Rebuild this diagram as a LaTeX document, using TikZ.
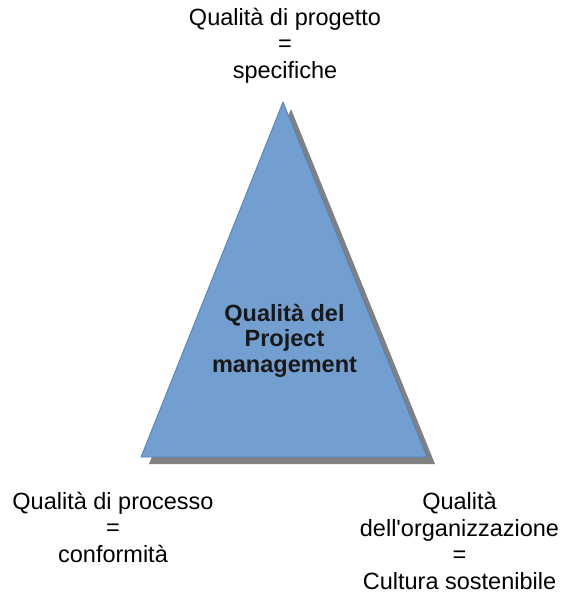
\documentclass[tikz,border=0pt]{standalone}
\usepackage{fontspec}
\setmainfont{Liberation Sans}
\definecolor{triblue}{HTML}{729FCF}
\definecolor{triedge}{HTML}{4F81BD}
\definecolor{trishadow}{HTML}{808080}
\begin{document}
\begin{tikzpicture}[x=1pt, y=-1pt,
		label/.style={align=center, inner sep=0pt, anchor=base,
					  font=\fontsize{23.5}{26.5}\selectfont, text=black},
		title/.style={label, font=\fontsize{23.5}{25.5}\selectfont\bfseries,
					  text=black!90}]
	\useasboundingbox (0, 0) rectangle (574, 600);

	\coordinate (top) at (283, 102);
	\coordinate (left) at (141, 457);
	\coordinate (right) at (427, 457);

	% shadow, then triangle
	\fill[trishadow] ([shift={(8, 7)}]top) -- ([shift={(8, 7)}]right)
		-- ([shift={(8, 7)}]left) -- cycle;
	\draw[triedge, fill=triblue, line width=0.8pt] (top) -- (right) -- (left) -- cycle;

	% anchor=base is the last line here
	\node[title] (pm) at (284.5, 372) {Qualità del\\Project\\management};

	\node[label] (prog) at (285, 78) {Qualità di progetto\\=\\specifiche};
	\node[label] (proc) at (113, 562) {Qualità di processo\\=\\conformità};
	\node[label] (org) at (459.5, 589) {Qualità\\dell\textquotesingle organizzazione\\=\\Cultura sostenibile};

\end{tikzpicture}
\end{document}
